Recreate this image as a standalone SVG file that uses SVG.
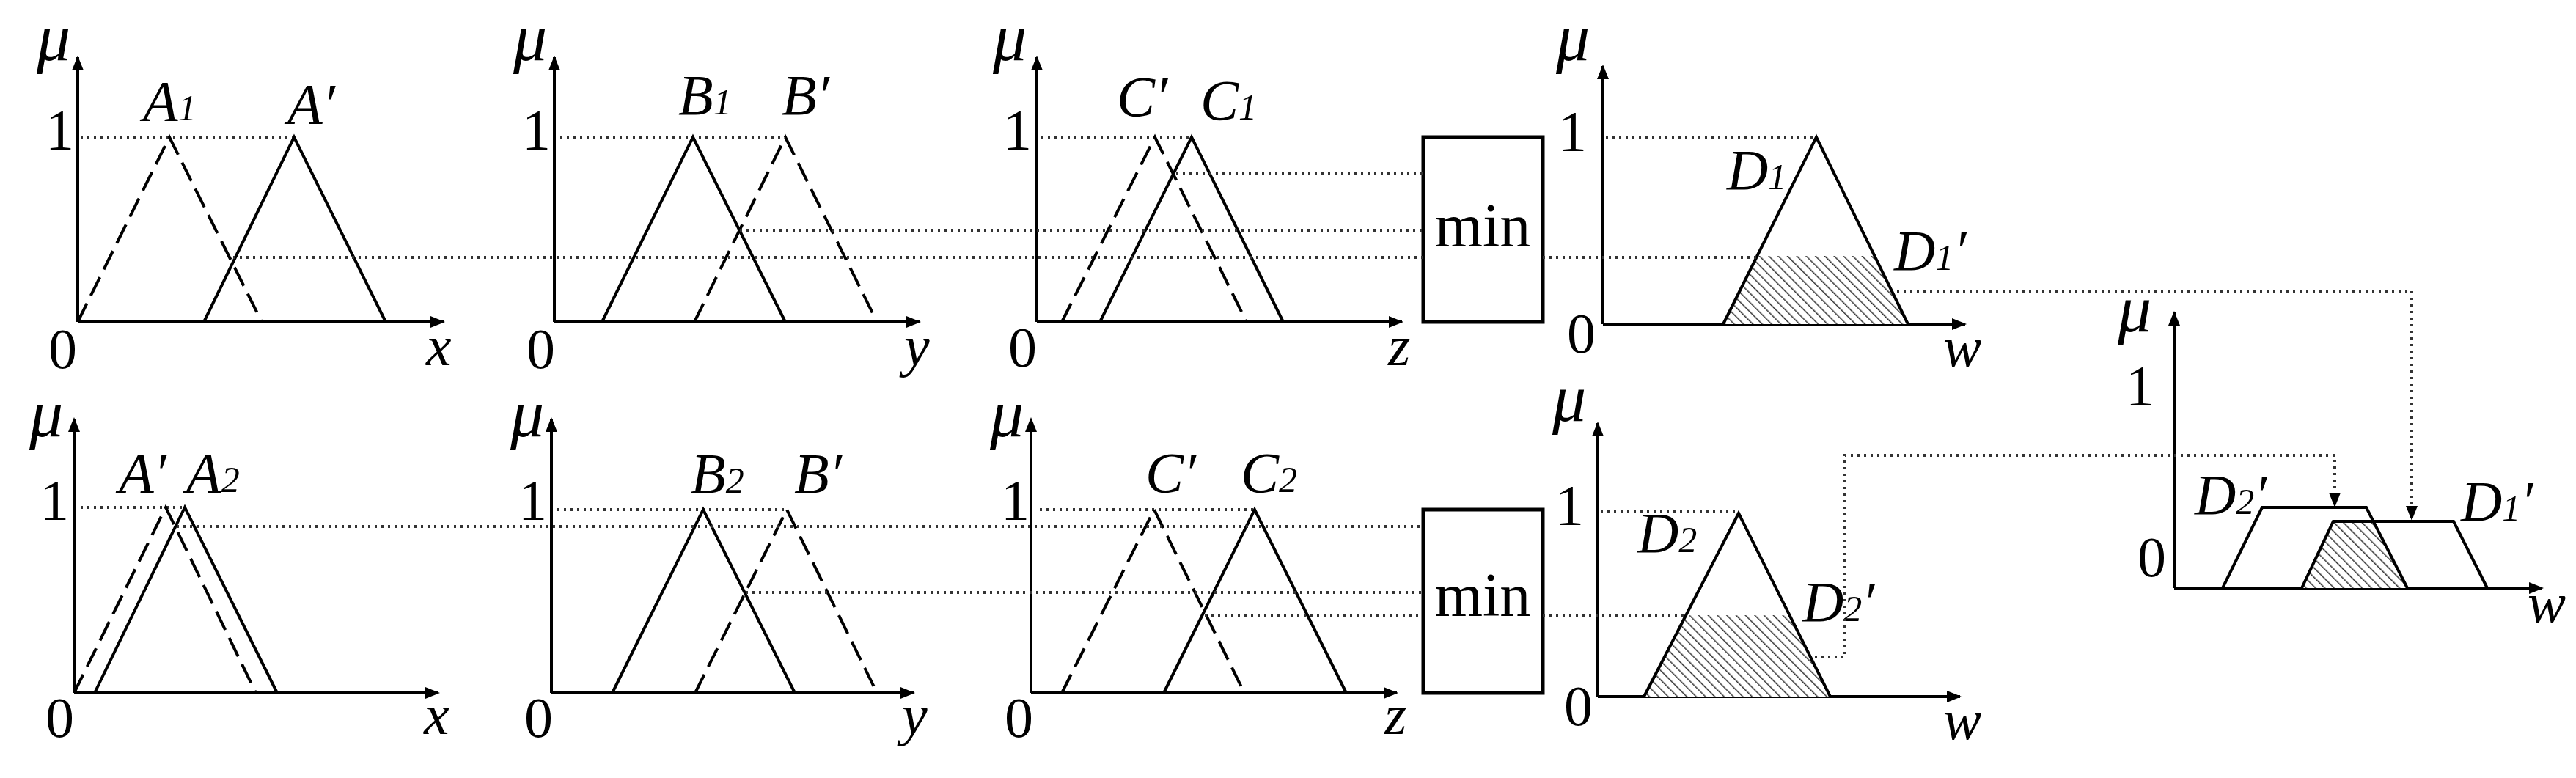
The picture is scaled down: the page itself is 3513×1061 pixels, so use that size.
<svg xmlns="http://www.w3.org/2000/svg" width="3513" height="1061" viewBox="0 0 3513 1061">
<style>
.ax{stroke:#000;stroke-width:4;fill:none}
.sol{stroke:#000;stroke-width:4;fill:none;stroke-linejoin:miter}
.dsh{stroke:#000;stroke-width:4;fill:none;stroke-dasharray:28 12}
.dot{stroke:#333;stroke-width:4;fill:none;stroke-dasharray:3 6}
.box{stroke:#000;stroke-width:5;fill:#fff}
text{font-family:"Liberation Serif","DejaVu Serif",serif;fill:#000}
.n{font-size:78px}
.it{font-style:italic;font-size:78px}
.mu{font-style:italic;font-size:92px}
.sub{font-size:50px}
.min{font-size:84px}
</style>
<defs>
<marker id="ah" viewBox="0 0 10 10" refX="9" refY="5" markerWidth="5" markerHeight="5" orient="auto" markerUnits="strokeWidth"><path d="M0,1 L10,5 L0,9 z" fill="#000"/></marker>
<marker id="ad" viewBox="0 0 10 10" refX="9" refY="5" markerWidth="5" markerHeight="5" orient="auto" markerUnits="strokeWidth"><path d="M0,1 L10,5 L0,9 z" fill="#000"/></marker>
<pattern id="hatch" patternUnits="userSpaceOnUse" width="9" height="9" patternTransform="rotate(-45)">
<rect width="9" height="9" fill="#fff"/><line x1="0" y1="0" x2="0" y2="9" stroke="#333" stroke-width="3"/>
</pattern>
</defs>

<!-- Row 1 -->
<g id="A-top">
<path class="ax" d="M106,439 V78" marker-end="url(#ah)"/><path class="ax" d="M106,439 H605" marker-end="url(#ah)"/>
<path class="dot" d="M110,187 H401"/>
<path class="dsh" d="M106,439 L231,187 L357,439"/>
<path class="sol" d="M278,439 L401,187 L526,439"/>
<text class="mu" x="50" y="82">μ</text><text class="n" x="62" y="203">1</text><text class="n" x="66" y="502">0</text><text class="it" x="581" y="498">x</text>
<text class="it" x="195" y="164">A<tspan class="sub" font-style="italic">1</tspan></text>
<text class="it" x="392" y="168">A′</text>
</g>
<g id="B-top">
<path class="ax" d="M756,439 V78" marker-end="url(#ah)"/><path class="ax" d="M756,439 H1254" marker-end="url(#ah)"/>
<path class="dot" d="M764,187 H1071"/>
<path class="sol" d="M821,439 L945,187 L1071,439"/>
<path class="dsh" d="M947,439 L1071,187 L1196,439"/>
<text class="mu" x="700" y="82">μ</text><text class="n" x="712" y="203">1</text><text class="n" x="718" y="502">0</text><text class="it" x="1233" y="498">y</text>
<text class="it" x="925" y="156">B<tspan class="sub" font-style="italic">1</tspan></text>
<text class="it" x="1066" y="156">B′</text>
</g>
<g id="C-top">
<path class="ax" d="M1414,439 V78" marker-end="url(#ah)"/><path class="ax" d="M1414,439 H1912" marker-end="url(#ah)"/>
<path class="dot" d="M1420,187 H1625"/>
<path class="dsh" d="M1448,439 L1575,187 L1700,439"/>
<path class="sol" d="M1500,439 L1625,187 L1750,439"/>
<text class="mu" x="1354" y="82">μ</text><text class="n" x="1368" y="203">1</text><text class="n" x="1375" y="500">0</text><text class="it" x="1893" y="498">z</text>
<text class="it" x="1523" y="158">C′</text>
<text class="it" x="1637" y="163">C<tspan class="sub" font-style="italic">1</tspan></text>
</g>
<g id="min-top">
<rect class="box" x="1941" y="187" width="163" height="252"/>
<text class="min" x="2022" y="336" text-anchor="middle">min</text>
</g>
<g id="D-top">
<path class="ax" d="M2186,442 V90" marker-end="url(#ah)"/><path class="ax" d="M2186,442 H2680" marker-end="url(#ah)"/>
<path class="dot" d="M2190,187 H2477"/>
<path d="M2350,442 L2398,349 H2554 L2602,442 Z" fill="url(#hatch)"/>
<path class="sol" d="M2350,442 L2477,187 L2602,442"/>
<text class="mu" x="2122" y="82" font-size="76">μ</text><text class="n" x="2125" y="205">1</text><text class="n" x="2137" y="481">0</text><text class="it" x="2650" y="500">w</text>
<text class="it" x="2355" y="258">D<tspan class="sub" font-style="italic">1</tspan></text>
<text class="it" x="2583" y="368">D<tspan class="sub" font-style="italic">1</tspan>′</text>
</g>

<!-- Row 2 -->
<g id="A-bot">
<path class="ax" d="M101,945 V571" marker-end="url(#ah)"/><path class="ax" d="M101,945 H598" marker-end="url(#ah)"/>
<path class="dot" d="M110,692 H252"/>
<path class="dsh" d="M101,945 L226,692 L349,945"/>
<path class="sol" d="M129,945 L252,692 L378,945"/>
<text class="mu" x="40" y="595">μ</text><text class="n" x="55" y="708">1</text><text class="n" x="62" y="1005">0</text><text class="it" x="578" y="1001">x</text>
<text class="it" x="162" y="671">A′</text>
<text class="it" x="254" y="671">A<tspan class="sub" font-style="italic">2</tspan></text>
</g>
<g id="B-bot">
<path class="ax" d="M752,945 V571" marker-end="url(#ah)"/><path class="ax" d="M752,945 H1246" marker-end="url(#ah)"/>
<path class="dot" d="M760,695 H1073"/>
<path class="sol" d="M835,945 L959,695 L1084,945"/>
<path class="dsh" d="M948,945 L1073,695 L1196,945"/>
<text class="mu" x="696" y="595">μ</text><text class="n" x="707" y="708">1</text><text class="n" x="715" y="1005">0</text><text class="it" x="1230" y="1001">y</text>
<text class="it" x="942" y="672">B<tspan class="sub" font-style="italic">2</tspan></text>
<text class="it" x="1083" y="672">B′</text>
</g>
<g id="C-bot">
<path class="ax" d="M1406,945 V571" marker-end="url(#ah)"/><path class="ax" d="M1406,945 H1905" marker-end="url(#ah)"/>
<path class="dot" d="M1418,695 H1711"/>
<path class="dsh" d="M1448,945 L1574,695 L1697,945"/>
<path class="sol" d="M1587,945 L1711,695 L1836,945"/>
<text class="mu" x="1350" y="595">μ</text><text class="n" x="1365" y="708">1</text><text class="n" x="1370" y="1005">0</text><text class="it" x="1888" y="1001">z</text>
<text class="it" x="1562" y="671">C′</text>
<text class="it" x="1692" y="671">C<tspan class="sub" font-style="italic">2</tspan></text>
</g>
<g id="min-bot">
<rect class="box" x="1941" y="695" width="163" height="250"/>
<text class="min" x="2022" y="840" text-anchor="middle">min</text>
</g>
<g id="D-bot">
<path class="ax" d="M2179,950 V577" marker-end="url(#ah)"/><path class="ax" d="M2179,950 H2673" marker-end="url(#ah)"/>
<path class="dot" d="M2183,698 H2371"/>
<path d="M2242,950 L2297,839 H2441 L2496,950 Z" fill="url(#hatch)"/>
<path class="sol" d="M2242,950 L2371,700 L2496,950"/>
<text class="mu" x="2117" y="574">μ</text><text class="n" x="2121" y="715">1</text><text class="n" x="2133" y="989">0</text><text class="it" x="2650" y="1008">w</text>
<text class="it" x="2233" y="753">D<tspan class="sub" font-style="italic">2</tspan></text>
<text class="it" x="2458" y="847">D<tspan class="sub" font-style="italic">2</tspan>′</text>
</g>

<!-- Result panel -->
<g id="result">
<path class="ax" d="M2965,802 V426" marker-end="url(#ah)"/><path class="ax" d="M2965,802 H3467" marker-end="url(#ah)"/>
<path d="M3139,802 L3182,711 H3235 L3283,802 Z" fill="url(#hatch)"/>
<path class="sol" d="M3031,802 L3085,692 H3227 L3283,802"/>
<path class="sol" d="M3139,802 L3182,711 H3346 L3392,802"/>
<text class="mu" x="2888" y="452">μ</text><text class="n" x="2899" y="552">1</text><text class="n" x="2915" y="786">0</text><text class="it" x="3447" y="849">w</text>
<text class="it" x="2993" y="701">D<tspan class="sub" font-style="italic">2</tspan>′</text>
<text class="it" x="3356" y="710">D<tspan class="sub" font-style="italic">1</tspan>′</text>
</g>

<!-- Connectors -->
<g id="connectors">
<path class="dot" d="M318,351 H1941"/>
<path class="dot" d="M1009,314 H1941"/>
<path class="dot" d="M1604,236 H1941"/>
<path class="dot" d="M2104,351 H2398"/>
<path class="dot" d="M241,718 H1941"/>
<path class="dot" d="M1017,808 H1941"/>
<path class="dot" d="M1643,839 H1941"/>
<path class="dot" d="M2104,839 H2297"/>
<path class="dot" d="M2587,397 H3289 V708" marker-end="url(#ad)"/>
<path class="dot" d="M2475,896 H2516 V621 H3184 V690" marker-end="url(#ad)"/>
</g>
</svg>
